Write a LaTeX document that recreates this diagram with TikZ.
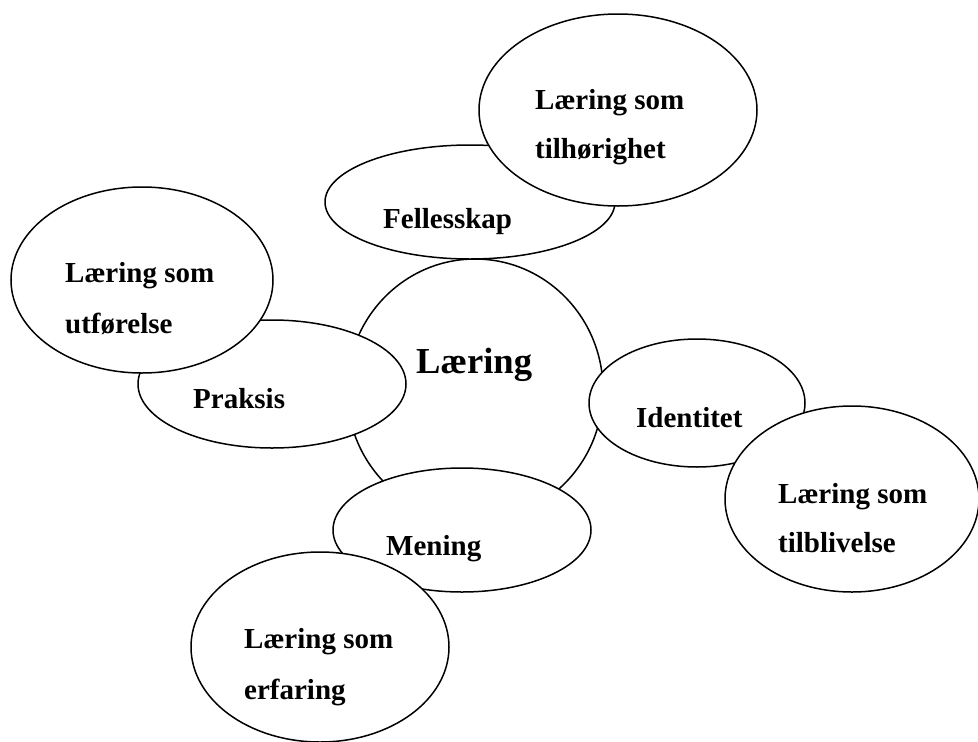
\documentclass[tikz,border=0pt]{standalone}
\usepackage{fontspec}
\setmainfont{Liberation Serif}
\usetikzlibrary{shapes.geometric}
\tikzset{
  ell/.style={draw=black, fill=white, line width=1.5pt, ellipse, inner sep=0pt, outer sep=0pt},
  txt/.style={anchor=base west, inner sep=0pt, font=\fontsize{29}{35}\selectfont\bfseries},
  bigtxt/.style={anchor=base west, inner sep=0pt, font=\fontsize{36.6}{44}\selectfont\bfseries}
}
\begin{document}
\begin{tikzpicture}[x=1pt, y=-1pt]
\useasboundingbox (0,0) rectangle (978,742);
\clip (0,0) rectangle (978,742);
\fill[white] (0,0) rectangle (978,742);
% central circle
\node[ell, minimum width=256pt, minimum height=262pt] (laering) at (475,390) {};
% Fellesskap / tilhorighet
\node[ell, minimum width=290pt, minimum height=114pt] (felles) at (470,202) {};
\node[ell, minimum width=278pt, minimum height=192pt] (tilh) at (618,110) {};
% Praksis / utforelse
\node[ell, minimum width=268pt, minimum height=128pt] (praksis) at (272,384) {};
\node[ell, minimum width=262pt, minimum height=186pt] (utf) at (142,280) {};
% Identitet / tilblivelse
\node[ell, minimum width=216pt, minimum height=128pt] (ident) at (697,403) {};
\node[ell, minimum width=254pt, minimum height=186pt] (tilb) at (852,499) {};
% Mening / erfaring
\node[ell, minimum width=258pt, minimum height=124pt] (mening) at (462,530) {};
\node[ell, minimum width=258pt, minimum height=190pt] (erf) at (320,647) {};
% texts
\node[bigtxt] (tlaering) at (416,373) {Læring};
\node[txt] (tfelles) at (383,228) {Fellesskap};
\node[txt] (ttilh1) at (535,109) {Læring som};
\node[txt] (ttilh2) at (535,158) {tilhørighet};
\node[txt] (tpraksis) at (193,408) {Praksis};
\node[txt] (tutf1) at (65,282) {Læring som};
\node[txt] (tutf2) at (65,333) {utførelse};
\node[txt] (tident) at (636,427) {Identitet};
\node[txt] (ttilb1) at (778,503) {Læring som};
\node[txt] (ttilb2) at (778,552) {tilblivelse};
\node[txt] (tmening) at (386,555) {Mening};
\node[txt] (terf1) at (244,648) {Læring som};
\node[txt] (terf2) at (244,699) {erfaring};
\end{tikzpicture}
\end{document}
